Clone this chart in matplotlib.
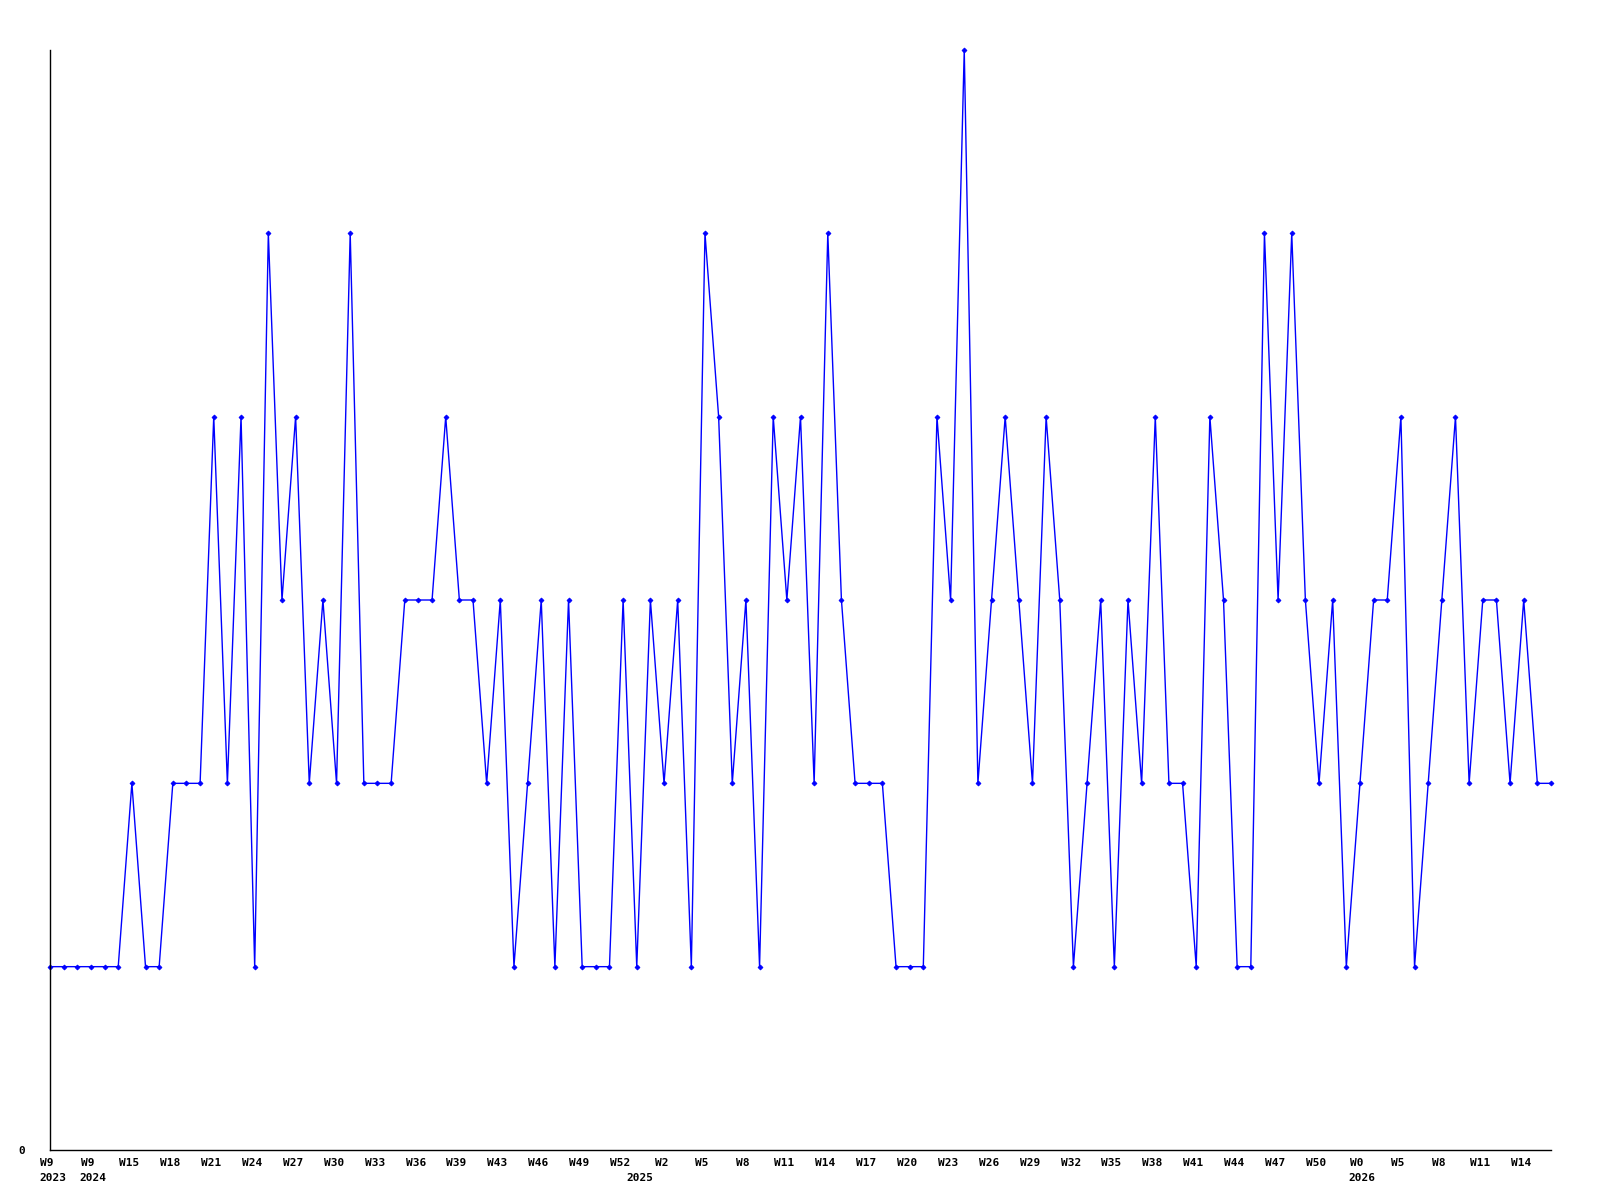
import numpy as np
from matplotlib import pyplot as plt
from matplotlib import transforms

# weekly counts, one per point
values = [1, 1, 1, 1, 1, 1, 2, 1, 1, 2, 2, 2, 4, 2, 4, 1, 5, 3, 4, 2,
          3, 2, 5, 2, 2, 2, 3, 3, 3, 4, 3, 3, 2, 3, 1, 2, 3, 1, 3, 1,
          1, 1, 3, 1, 3, 2, 3, 1, 5, 4, 2, 3, 1, 4, 3, 4, 2, 5, 3, 2,
          2, 2, 1, 1, 1, 4, 3, 6, 2, 3, 4, 3, 2, 4, 3, 1, 2, 3, 1, 3,
          2, 4, 2, 2, 1, 4, 3, 1, 1, 5, 3, 5, 3, 2, 3, 1, 2, 3, 3, 4,
          1, 2, 3, 4, 2, 3, 3, 2, 3, 2, 2]

week_labels = ['W9', 'W9', 'W15', 'W18', 'W21', 'W24', 'W27', 'W30',
               'W33', 'W36', 'W39', 'W43', 'W46', 'W49', 'W52', 'W2',
               'W5', 'W8', 'W11', 'W14', 'W17', 'W20', 'W23', 'W26', 'W29',
               'W32', 'W35', 'W38', 'W41', 'W44', 'W47', 'W50', 'W0',
               'W5', 'W8', 'W11', 'W14']
tick_step = 3

# year markers: (point index, year)
year_points = [0, 3, 45, 96]
year_names = ['2023', '2024', '2025', '2026']

x = np.arange(len(values))

plt.rcParams['font.family'] = ['DejaVu Sans Mono']

fig = plt.figure(figsize=(16, 12), dpi=100)
ax = fig.add_axes([50 / 1600, 50 / 1200, 1501 / 1600, 1100 / 1200])

ax.plot(x, values, '-', color='#0000ff', linewidth=1.0,
        marker='D', markersize=2.5, markeredgewidth=0.6, clip_on=False)

ax.set_xlim(0, len(values) - 1)
ax.set_ylim(0, max(values))

ax.set_xticks(x[::tick_step][:len(week_labels)])
ax.set_xticklabels(week_labels, fontsize=8, fontweight='bold')
ax.set_yticks([0])
ax.set_yticklabels(['0'], fontsize=8, fontweight='bold')
ax.tick_params(axis='both', length=0)
ax.tick_params(axis='x', pad=5.5)
ax.tick_params(axis='y', pad=18)

# week labels sit a little left of their points
shift = transforms.ScaledTranslation(-2 / 72, 0, fig.dpi_scale_trans)
for lbl in ax.get_xticklabels():
    lbl.set_transform(lbl.get_transform() + shift)

for i, yr in zip(year_points, year_names):
    # 2025 sits to the left of its week label, the others start under it
    if yr == '2025':
        ax.annotate(yr, xy=(i, 0), xycoords=('data', 'axes fraction'),
                    xytext=(-8, -16.5), textcoords='offset points',
                    ha='right', va='top', fontsize=8, fontweight='bold')
    else:
        ax.annotate(yr, xy=(i, 0), xycoords=('data', 'axes fraction'),
                    xytext=(-8, -16.5), textcoords='offset points',
                    ha='left', va='top', fontsize=8, fontweight='bold')

for side in ['top', 'right']:
    ax.spines[side].set_visible(False)
for side in ['left', 'bottom']:
    ax.spines[side].set_linewidth(1.0)
    ax.spines[side].set_color('black')

fig.savefig('out.png', dpi=100)
